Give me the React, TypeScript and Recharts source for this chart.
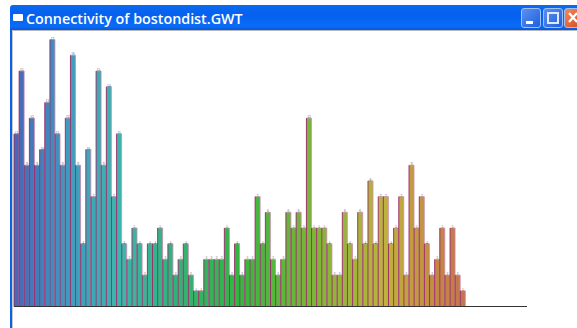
import React from "react";
import { BarChart, Bar, XAxis, YAxis, LabelList } from "recharts";

const TITLE = "Connectivity of bostondist.GWT";
const SLOT_COUNT = 100;
const neighbours = [
  11, 15, 9, 12, 9, 10, 13, 17, 11, 9, 12, 16, 9, 4, 10, 7, 15, 9, 14, 7, 11, 4,
  3, 5, 4, 2, 4, 4, 5, 3, 4, 2, 3, 4, 2, 1, 1, 3, 3, 3, 3, 5, 2, 4, 2, 3, 3, 7,
  4, 6, 3, 2, 3, 6, 5, 6, 5, 12, 5, 5, 5, 4, 2, 2, 6, 4, 3, 6, 4, 8, 4, 7, 7, 4,
  5, 7, 2, 9, 5, 7, 4, 2, 3, 5, 2, 5, 2, 1,
];
const rampStops: [number, number, number, number][] = [
  [0, 70, 105, 182],
  [10, 62, 155, 190],
  [20, 60, 182, 172],
  [30, 50, 178, 125],
  [43, 50, 182, 65],
  [58, 125, 182, 55],
  [72, 190, 178, 60],
  [80, 195, 145, 65],
  [87, 195, 118, 75],
];

const data = Array.from({ length: SLOT_COUNT }, (_, i) => ({
  slot: i + 1,
  count: neighbours[i] ?? null,
}));

function rampColor(i: number): string {
  let k = 0;
  while (k < rampStops.length - 2 && i > rampStops[k + 1][0]) k++;
  const a = rampStops[k];
  const b = rampStops[k + 1];
  const t = Math.min(1, Math.max(0, (i - a[0]) / (b[0] - a[0])));
  const mix = (n: number) => Math.round(a[n] + (b[n] - a[n]) * t);
  return `rgb(${mix(1)},${mix(2)},${mix(3)})`;
}

function EdgedBar(props: any) {
  const { x, y, width, height, index } = props;
  if (!height || height <= 0) return null;
  return (
    <g>
      <rect x={x} y={y} width={width} height={height} fill={rampColor(index)} />
      <path d={`M${x} ${y}H${x + width}V${y + height}`} fill="none" stroke="#cc88b0" strokeWidth={0.8} />
      <path d={`M${x} ${y + height}V${y}`} fill="none" stroke="#9a2668" strokeWidth={0.9} />
    </g>
  );
}

function CaptionButton({ left, width, bg, children }: any) {
  return (
    <div
      style={{
        position: "absolute",
        left,
        top: 8,
        width,
        height: 20,
        borderRadius: 3,
        background: bg,
        border: "1px solid #9fc0f5",
        boxSizing: "border-box",
      }}
    >
      {children}
    </div>
  );
}

export default function App() {
  return (
    <div style={{ position: "fixed", left: 0, top: 0, width: 577, height: 328, background: "#fff", overflow: "hidden" }}>
      <div
        style={{
          position: "absolute",
          left: 10,
          top: 5,
          width: 567,
          height: 25,
          background: "linear-gradient(#0a6af0, #0560ee 40%, #0a6cf8 85%, #0a58d8)",
          borderRadius: "3px 0 0 0",
        }}
      />
      <div style={{ position: "absolute", left: 13, top: 14, width: 10, height: 7, background: "#fff", borderRadius: 1 }} />
      <div
        style={{
          position: "absolute",
          left: 26,
          top: 9,
          color: "#fff",
          fontFamily: "'Open Sans', sans-serif",
          fontWeight: 600,
          fontSize: 14.3,
          lineHeight: "20px",
          whiteSpace: "nowrap",
        }}
      >
        {TITLE}
      </div>
      <CaptionButton left={521} width={20} bg="linear-gradient(135deg,#5c8ff0,#1f5fe0)">
        <div style={{ position: "absolute", left: 4, top: 12, width: 7, height: 3, background: "#fff" }} />
      </CaptionButton>
      <CaptionButton left={543} width={20} bg="linear-gradient(135deg,#5c8ff0,#1f5fe0)">
        <div style={{ position: "absolute", left: 3, top: 3, width: 12, height: 12, border: "2px solid #dfe9fb", boxSizing: "border-box" }} />
      </CaptionButton>
      <CaptionButton left={564} width={20} bg="linear-gradient(135deg,#ef8a5c,#d8481c)">
        <svg width={18} height={18} style={{ position: "absolute", left: 0, top: 0 }}>
          <path d="M4 4L12 13M12 4L4 13" stroke="#fff" strokeWidth={2.2} />
        </svg>
      </CaptionButton>
      <div style={{ position: "absolute", left: 10, top: 30, width: 567, height: 1, background: "#b8b8b8" }} />
      <div style={{ position: "absolute", left: 10, top: 30, width: 2, height: 298, background: "#0a62ea" }} />
      <div style={{ position: "absolute", left: 12, top: 30, width: 1, height: 298, background: "#c8c8c8" }} />
      <div style={{ position: "absolute", left: 0, top: 0 }}>
        <BarChart
          width={577}
          height={328}
          data={data}
          barCategoryGap={0}
          barGap={0}
          margin={{ top: 39.6, right: 50, bottom: 20.5, left: 14 }}
        >
          <XAxis dataKey="slot" height={1} tick={false} tickLine={false} axisLine={{ stroke: "#333", strokeWidth: 1 }} interval={0} />
          <YAxis hide domain={[0, 17]} />
          <Bar dataKey="count" isAnimationActive={false} shape={<EdgedBar />}>
            <LabelList dataKey="count" position="top" offset={0} fontSize={3.5} fill="#555" />
          </Bar>
        </BarChart>
      </div>
    </div>
  );
}
